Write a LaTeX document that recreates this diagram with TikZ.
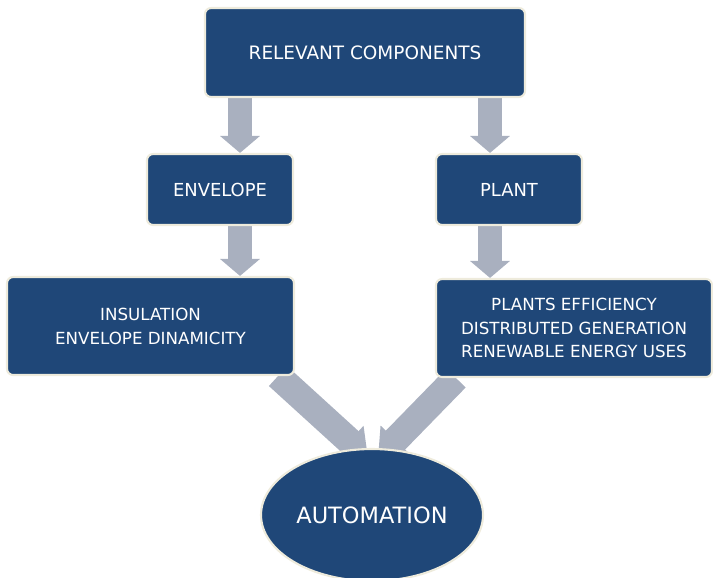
\documentclass[tikz,border=0pt]{standalone}
\usepackage{fontspec}
\setmainfont{DejaVu Sans}
\usetikzlibrary{positioning, arrows.meta, shapes.geometric, backgrounds}

\definecolor{navy}{HTML}{1F4778}
\definecolor{cream}{HTML}{EEEBDC}
\definecolor{steel}{HTML}{A9B0BF}

\begin{document}
\begin{tikzpicture}[
    block/.style={
        rectangle,
        draw=cream,
        fill=navy,
        line width=1.2pt,
        rounded corners=3.5pt,
        text=white,
        align=center,
        font=\fontsize{9.5}{13.6}\selectfont
    },
    hub/.style={
        ellipse,
        draw=cream,
        fill=navy,
        line width=1.2pt,
        inner sep=0pt,
        text=white,
        font=\fontsize{12.8}{15}\selectfont
    },
    arrow/.style={-{Triangle[length=0.34cm, width=0.78cm]}, steel, line width=0.48cm},
    fat/.style={-{Triangle[length=0.5cm, width=0.8cm]}, steel, line width=0.54cm}
]

\useasboundingbox (0,0) rectangle (14.26,-11.54);

% === Blocks ===
\node[block, minimum width=6.4cm, minimum height=1.78cm, font=\fontsize{10.5}{13}\selectfont] (rel) at (7.3, -1.05) {RELEVANT COMPONENTS};
\node[block, minimum width=2.92cm, minimum height=1.42cm, font=\fontsize{10.2}{13}\selectfont] (env) at (4.4, -3.79) {ENVELOPE};
\node[block, minimum width=2.92cm, minimum height=1.42cm, font=\fontsize{10.2}{13}\selectfont] (plant) at (10.18, -3.79) {PLANT};
\node[block, minimum width=5.74cm, minimum height=1.96cm] (ins) at (3.01, -6.52) {INSULATION\\ENVELOPE DINAMICITY};
\node[block, minimum width=5.52cm, minimum height=1.96cm] (eff) at (11.48, -6.56)
    {PLANTS EFFICIENCY\\DISTRIBUTED GENERATION\\RENEWABLE ENERGY USES};
\node[hub, minimum width=4.44cm, minimum height=2.64cm] (auto) at (7.44, -10.3) {AUTOMATION};

% === Arrows (behind the blocks) ===
\coordinate (lx) at (4.8, 0);
\coordinate (rx) at (9.8, 0);
\coordinate (ls) at (5.56, 0);
\coordinate (rs) at (9.12, 0);
\coordinate (lt) at (7.36, -9.16);
\coordinate (rt) at (7.56, -9.16);

\begin{scope}[on background layer]
\draw[arrow] (rel.south -| lx) -- (env.north -| lx);
\draw[arrow] (rel.south -| rx) -- (plant.north -| rx);
\draw[arrow] (env.south -| lx) -- (ins.north -| lx);
\draw[arrow] (plant.south -| rx) -- (eff.north -| rx);
\draw[fat] (ins.south -| ls) -- (lt);
\draw[fat] (eff.south -| rs) -- (rt);
\end{scope}

\end{tikzpicture}
\end{document}
